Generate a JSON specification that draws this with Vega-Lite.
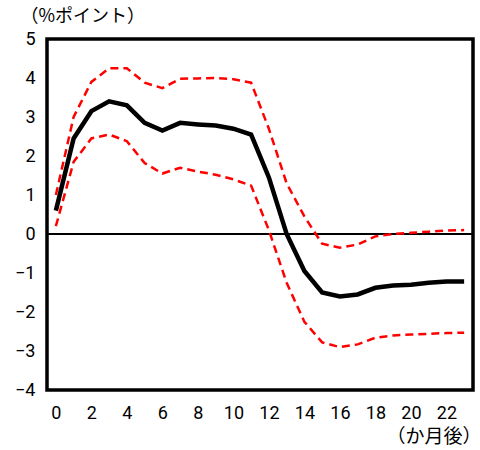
{
  "$schema": "https://vega.github.io/schema/vega-lite/v6.json",
  "autosize": "none",
  "width": 426,
  "height": 351,
  "padding": {"left": 47, "top": 39, "right": 7, "bottom": 60},
  "background": "white",
  "config": {
    "view": {"stroke": "black", "strokeWidth": 3.5}
  },
  "datasets": {
    "irf": [
      {"month": 0, "mid": 0.6, "upper": 1.0, "lower": 0.2},
      {"month": 1, "mid": 2.45, "upper": 3.0, "lower": 1.85},
      {"month": 2, "mid": 3.15, "upper": 3.9, "lower": 2.45},
      {"month": 3, "mid": 3.4, "upper": 4.25, "lower": 2.55},
      {"month": 4, "mid": 3.3, "upper": 4.25, "lower": 2.38},
      {"month": 5, "mid": 2.85, "upper": 3.88, "lower": 1.82},
      {"month": 6, "mid": 2.65, "upper": 3.74, "lower": 1.55},
      {"month": 7, "mid": 2.85, "upper": 3.98, "lower": 1.7},
      {"month": 8, "mid": 2.81, "upper": 3.99, "lower": 1.6},
      {"month": 9, "mid": 2.78, "upper": 4.0, "lower": 1.52},
      {"month": 10, "mid": 2.7, "upper": 3.97, "lower": 1.4},
      {"month": 11, "mid": 2.55, "upper": 3.88, "lower": 1.24},
      {"month": 12, "mid": 1.45, "upper": 2.7, "lower": 0.1},
      {"month": 13, "mid": 0.0, "upper": 1.3, "lower": -1.25},
      {"month": 14, "mid": -0.95, "upper": 0.45, "lower": -2.25},
      {"month": 15, "mid": -1.5, "upper": -0.25, "lower": -2.78},
      {"month": 16, "mid": -1.6, "upper": -0.35, "lower": -2.9},
      {"month": 17, "mid": -1.55, "upper": -0.27, "lower": -2.83},
      {"month": 18, "mid": -1.38, "upper": -0.06, "lower": -2.66},
      {"month": 19, "mid": -1.32, "upper": 0.0, "lower": -2.6},
      {"month": 20, "mid": -1.3, "upper": 0.03, "lower": -2.58},
      {"month": 21, "mid": -1.25, "upper": 0.06, "lower": -2.56},
      {"month": 22, "mid": -1.22, "upper": 0.09, "lower": -2.54},
      {"month": 23, "mid": -1.22, "upper": 0.1, "lower": -2.53}
    ]
  },
  "data": {"name": "irf"},
  "encoding": {
    "x": {
      "field": "month",
      "type": "quantitative",
      "scale": {"domain": [-0.5, 23.5], "nice": false, "zero": false},
      "axis": {
        "values": [0, 2, 4, 6, 8, 10, 12, 14, 16, 18, 20, 22],
        "grid": false,
        "ticks": false,
        "domain": false,
        "labelFont": "Roboto",
        "labelFontSize": 18,
        "labelColor": "black",
        "labelPadding": 14,
        "labelFlush": false,
        "labelOverlap": false,
        "title": "（か月後）",
        "titleFont": "Noto Sans CJK JP",
        "titleFontSize": 19,
        "titleFontWeight": "normal",
        "titleColor": "black",
        "titleAnchor": "end",
        "titleAlign": "right",
        "titleX": 434,
        "titleY": 46,
        "titleBaseline": "middle"
      }
    },
    "y": {
      "field": "mid",
      "type": "quantitative",
      "scale": {"domain": [-4, 5], "nice": false},
      "axis": {
        "values": [-4, -3, -2, -1, 0, 1, 2, 3, 4, 5],
        "grid": false,
        "domain": false,
        "ticks": false,
        "labelFont": "Roboto",
        "labelFontSize": 18,
        "labelColor": "black",
        "labelPadding": 12,
        "labelFlush": false,
        "labelOverlap": false,
        "title": "（%ポイント）",
        "titleFont": "Noto Sans CJK JP",
        "titleFontSize": 18,
        "titleFontWeight": "normal",
        "titleColor": "black",
        "titleAngle": 0,
        "titleAlign": "left",
        "titleBaseline": "middle",
        "titleX": -27,
        "titleY": -23
      }
    }
  },
  "layer": [
    {
      "mark": {"type": "rule", "color": "black", "strokeWidth": 1},
      "encoding": {"y": {"datum": 0, "type": "quantitative"}, "x": null}
    },
    {
      "mark": {"type": "line", "color": "#ff0000", "strokeWidth": 2.5, "strokeDash": [8, 5]},
      "encoding": {"y": {"field": "upper", "type": "quantitative"}}
    },
    {
      "mark": {"type": "line", "color": "#ff0000", "strokeWidth": 2.5, "strokeDash": [8, 5]},
      "encoding": {"y": {"field": "lower", "type": "quantitative"}}
    },
    {
      "mark": {"type": "line", "color": "black", "strokeWidth": 4.5},
      "encoding": {"y": {"field": "mid", "type": "quantitative"}}
    }
  ]
}
